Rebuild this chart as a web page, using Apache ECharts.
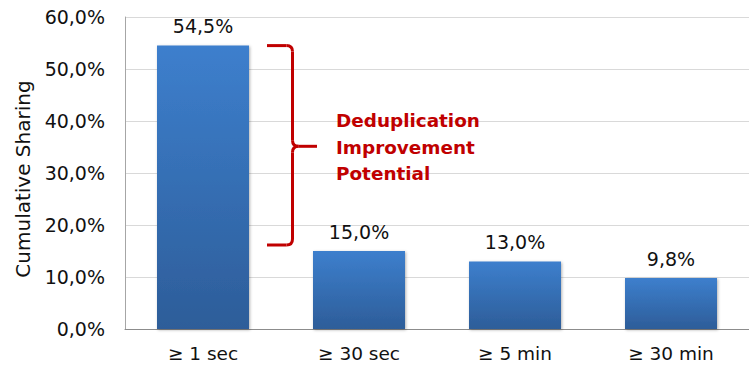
<!DOCTYPE html>
<html>
<head>
<meta charset="utf-8">
<script src="https://cdn.jsdelivr.net/npm/echarts@6/dist/echarts.min.js"></script>
<style>
  html, body { margin: 0; padding: 0; background: #fff; }
  #chart { width: 749px; height: 369px; }
</style>
</head>
<body>
<div id="chart"></div>
<script>
// Share of duplicate content by minimum time gap
const categories = ['≥ 1 sec', '≥ 30 sec', '≥ 5 min', '≥ 30 min'];
const sharing = [54.5, 15.0, 13.0, 9.8];
const yTickValues = [0, 10, 20, 30, 40, 50, 60];
const yTickLabels = ['0,0%', '10,0%', '20,0%', '30,0%', '40,0%', '50,0%', '60,0%'];
const axisTitle = 'Cumulative Sharing';
const noteLines = ['Deduplication', 'Improvement', 'Potential'];
// brace spans from the first bar's value down toward the second bar's value
const braceFrom = sharing[0];
const braceTo = sharing[1];

const FONT = '"DejaVu Sans", sans-serif';
const RED = '#c00000';
const pct = v => v.toFixed(1).replace('.', ',') + '%';

const chart = echarts.init(document.getElementById('chart'), null, { renderer: 'svg' });

chart.setOption({
  animation: false,
  grid: { left: 125, top: 17, width: 634, height: 312, containLabel: false },
  xAxis: {
    type: 'category',
    data: categories,
    axisLine: { show: true, lineStyle: { color: '#8c8c8c', width: 1 } },
    axisTick: { show: false },
    axisLabel: { color: '#111', fontFamily: FONT, fontSize: 18.5, margin: 15 },
    splitLine: { show: false }
  },
  yAxis: {
    type: 'value',
    min: 0, max: 60, interval: 10,
    name: axisTitle,
    nameLocation: 'middle',
    nameRotate: 90,
    nameGap: 92,
    nameTextStyle: { color: '#111', fontFamily: FONT, fontSize: 20, padding: [0, 12, 0, 0] },
    axisLine: { show: true, lineStyle: { color: '#a6a6a6', width: 1 } },
    axisTick: { show: false },
    axisLabel: {
      color: '#111', fontFamily: FONT, fontSize: 19, margin: 20,
      formatter: v => yTickLabels[yTickValues.indexOf(v)] ?? pct(v)
    },
    splitLine: { show: true, lineStyle: { color: '#d9d9d9', width: 1 } }
  },
  series: [{
    type: 'bar',
    data: sharing,
    barWidth: 92,
    itemStyle: {
      color: new echarts.graphic.LinearGradient(0, 0, 0, 1, [
        { offset: 0, color: '#3d7fcd' },
        { offset: 1, color: '#2d5d99' }
      ]),
      shadowColor: 'rgba(0,0,0,0.3)',
      shadowBlur: 3,
      shadowOffsetX: 1,
      shadowOffsetY: 1
    },
    label: {
      show: true,
      position: 'top',
      distance: 10,
      color: '#111',
      fontFamily: FONT,
      fontSize: 19,
      formatter: p => pct(p.value)
    }
  }]
});

// Curly brace and note next to the first bar
function drawBrace() {
  const top = chart.convertToPixel({ seriesIndex: 0 }, [0, braceFrom]);
  const bot = chart.convertToPixel({ seriesIndex: 0 }, [0, braceTo]);
  const x0 = top[0] + 92 / 2 + 18;
  const xv = x0 + 25.5;
  const xt = xv + 24.5;
  const yt = top[1];
  const yb = bot[1] - 6;
  const ym = (yt + yb) / 2 + 1;
  const r = 6;
  const stroke = { stroke: RED, lineWidth: 3, fill: null, lineCap: 'butt' };
  const line = (x1, y1, x2, y2) => ({
    type: 'line', silent: true, shape: { x1, y1, x2, y2 }, style: stroke
  });
  const curve = (x1, y1, cx, cy, x2, y2) => ({
    type: 'bezierCurve', silent: true,
    shape: { x1, y1, cpx1: cx, cpy1: cy, x2, y2 }, style: stroke
  });

  chart.setOption({
    graphic: [
      line(x0, yt, xv - r, yt),
      curve(xv - r, yt, xv, yt, xv, yt + r),
      line(xv, yt + r, xv, ym - r),
      curve(xv, ym - r, xv, ym, xv + r, ym),
      line(xv + r, ym, xt, ym),
      curve(xv + r, ym, xv, ym, xv, ym + r),
      line(xv, ym + r, xv, yb - r),
      curve(xv, yb - r, xv, yb, xv - r, yb),
      line(xv - r, yb, x0, yb),
      {
        type: 'text',
        silent: true,
        x: xt + 19,
        y: ym + 1,
        style: {
          text: noteLines.join('\n'),
          fill: RED,
          fontFamily: FONT,
          fontWeight: 'bold',
          fontSize: 18.4,
          lineHeight: 26.5,
          align: 'left',
          verticalAlign: 'middle'
        }
      }
    ]
  });
}
drawBrace();
</script>
</body>
</html>
